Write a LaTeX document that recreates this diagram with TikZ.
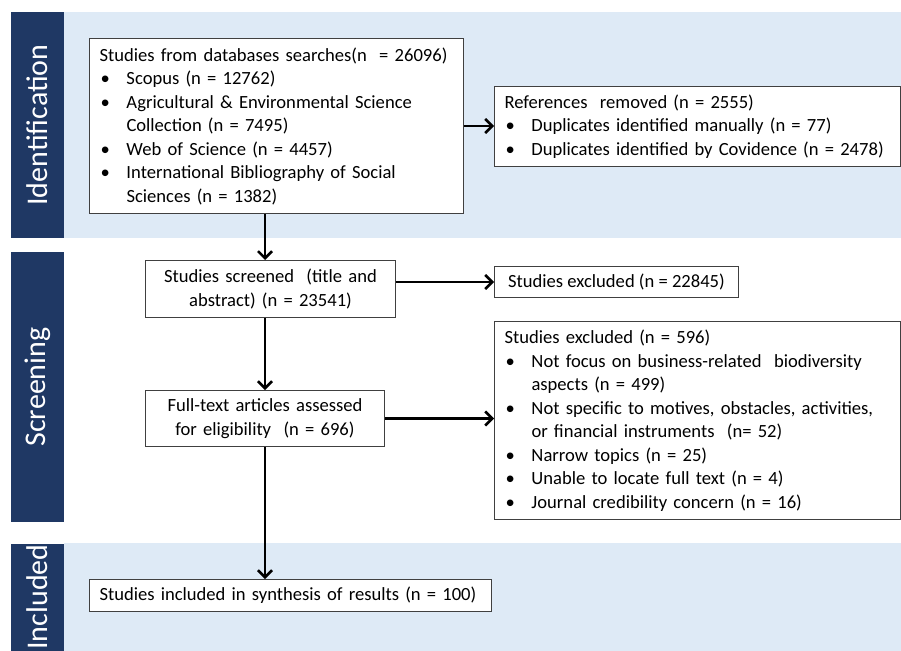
\documentclass[tikz,border=0pt]{standalone}
\usepackage{fontspec}
\setmainfont{Carlito}
\usepackage{xcolor}
\usetikzlibrary{arrows.meta, positioning}

\definecolor{phasecol}{HTML}{1F3864}
\definecolor{bandcol}{HTML}{DEEAF6}
\definecolor{boxline}{HTML}{404040}

\newcommand{\bul}{\makebox[27pt][l]{\hspace{1pt}\textbullet}}
\newcommand{\ind}{\hspace*{27pt}}

\begin{document}
\begin{tikzpicture}[x=1pt, y=-1pt,
    phase/.style={fill=phasecol, text=white, rotate=90, minimum height=53, inner sep=0,
        font=\fontsize{30}{36}\selectfont},
    box/.style={draw=boxline, line width=1pt, fill=white, anchor=north west,
        inner xsep=10, inner ysep=0, font=\fontsize{18.6}{23.5}\selectfont},
    flow/.style={-{Straight Barb[length=7pt,width=14pt]}, line width=2.5pt}
]
    \useasboundingbox (0,0) rectangle (901,650);
    \clip (0,0) rectangle (901,650);

    % Phase bands
    \fill[bandcol] (64,12) rectangle (901,238);
    \fill[bandcol] (64,543) rectangle (901,662);
    \node[phase, minimum width=226] (ident) at (37.5,125) {Identification};
    \node[phase, minimum width=270] (screen) at (37.5,387) {Screening};
    \node[phase, minimum width=107] (incl) at (37.5,597) {Included};

    % Boxes
    \node[box, text width=354, minimum height=175, align=left] (db) at (89,38)
        {Studies from databases searches(n\ \ = 26096)\\
         \bul Scopus (n = 12762)\\
         \bul Agricultural \& Environmental Science\\
         \ind Collection (n = 7495)\\
         \bul Web of Science (n = 4457)\\
         \bul International Bibliography of Social\\
         \ind Sciences (n = 1382)};
    \node[box, text width=386, minimum height=80, align=left] (removed) at (494,86)
        {References\ \ removed (n = 2555)\\
         \bul Duplicates identified manually (n = 77)\\
         \bul Duplicates identified by Covidence (n = 2478)};
    \node[box, text width=230, minimum height=57, align=center] (screened) at (145,260)
        {Studies screened\ \ (title and\\ abstract) (n = 23541)};
    \node[box, minimum width=244, minimum height=31, inner xsep=4] (excl1) at (494,266)
        {Studies excluded (n = 22845)};
    \node[box, text width=219, minimum height=56, align=center] (full) at (145,390)
        {Full-text articles assessed\\ for eligibility\ \ (n = 696)};
    \node[box, text width=386, minimum height=198, align=left] (excl2) at (494,321)
        {Studies excluded (n = 596)\\
         \bul Not focus on business-related\ \ biodiversity\\
         \ind aspects (n = 499)\\
         \bul Not specific to motives, obstacles, activities,\\
         \ind or financial instruments\ \ (n= 52)\\
         \bul Narrow topics (n = 25)\\
         \bul Unable to locate full text (n = 4)\\
         \bul Journal credibility concern (n = 16)};
    \node[box, text width=382, minimum height=32, align=left] (synth) at (89,579)
        {Studies included in synthesis of results (n = 100)};

    % Connectors
    \draw[flow] (db.south -| full.north) -- (screened.north -| full.north);
    \draw[flow] (db.east) -- (db.east -| removed.west);
    \draw[flow] (screened.south -| full.north) -- (full.north);
    \draw[flow] (screened.east |- excl1.west) -- (excl1.west);
    \draw[flow] (full.east) -- (full.east -| excl2.west);
    \draw[flow] (full.south) -- (full.south |- synth.north);
\end{tikzpicture}
\end{document}
